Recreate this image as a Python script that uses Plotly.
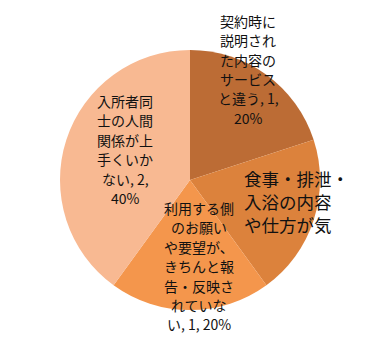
import plotly.graph_objects as go

W, H = 385, 354

categories = [
    "契約時に説明された内容のサービスと違う",
    "食事・排泄・入浴の内容や仕方が気",
    "利用する側のお願いや要望が、きちんと報告・反映されていない",
    "入所者同士の人間関係が上手くいかない",
]
values = [1, 1, 1, 2]
colors = ["#BC6C35", "#DC823C", "#F4964C", "#F8B992"]

# wrapped label lines as shown in the chart
label_lines = [
    ["契約時に", "説明され", "た内容の", "サービス", "と違う, 1,", "20%"],
    ["食事・排泄・", "入浴の内容", "や仕方が気"],
    ["利用する側", "のお願い", "や要望が、", "きちんと報", "告・反映さ", "れていな", "い, 1, 20%"],
    ["入所者同", "士の人間", "関係が上", "手くいか", "ない, 2,", "40%"],
]
# label layout: (x px, first line y px, line spacing px, font size, anchor)
label_layout = [
    (248, 21, 19.3, 14, "center"),
    (242, 178, 23, 17.5, "left"),
    (199, 208, 19.4, 14, "center"),
    (125, 101, 19.4, 14, "center"),
]

cx, cy, r = 190, 180, 130

fig = go.Figure(
    go.Pie(
        labels=categories,
        values=values,
        sort=False,
        direction="clockwise",
        rotation=0,
        marker=dict(colors=colors, line=dict(width=0)),
        textinfo="none",
        hoverinfo="label+value+percent",
        showlegend=False,
        domain=dict(x=[(cx - r) / W, (cx + r) / W], y=[1 - (cy + r) / H, 1 - (cy - r) / H]),
    )
)

font_family = "Noto Sans CJK JP, Noto Sans, sans-serif"
annotations = []
for lines, (x, y0, dy, fs, anchor) in zip(label_lines, label_layout):
    for i, line in enumerate(lines):
        annotations.append(
            dict(
                x=x / W,
                y=1 - (y0 + i * dy) / H,
                xref="paper",
                yref="paper",
                text=line,
                showarrow=False,
                xanchor=anchor,
                yanchor="middle",
                font=dict(family=font_family, size=fs, color="#111111"),
            )
        )

fig.update_layout(
    width=W,
    height=H,
    margin=dict(l=0, r=0, t=0, b=0),
    paper_bgcolor="white",
    plot_bgcolor="white",
    annotations=annotations,
)

fig.write_html("out.html")
